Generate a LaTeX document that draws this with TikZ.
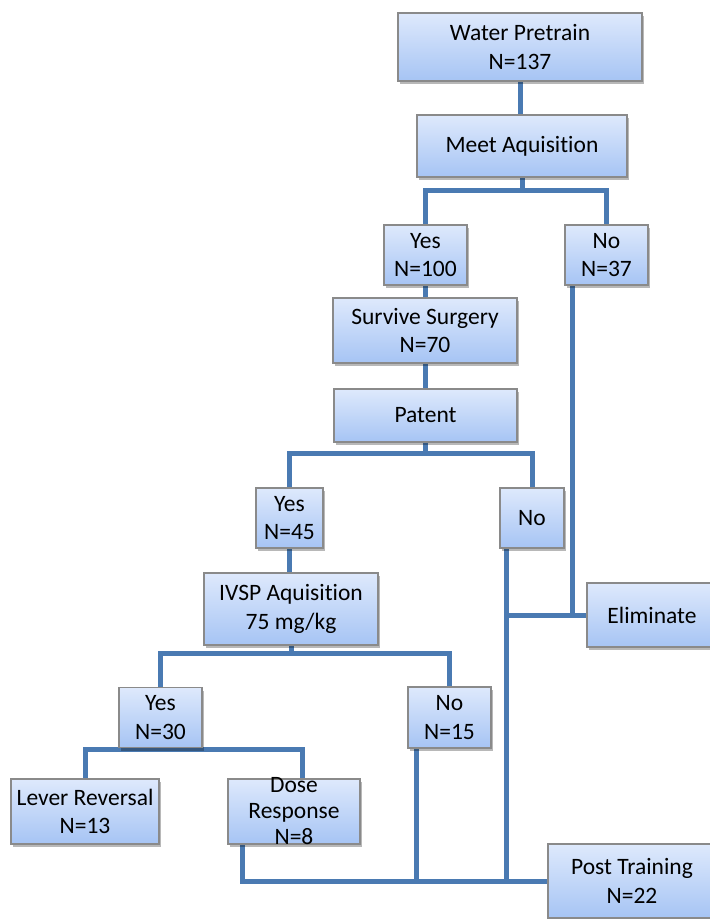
\documentclass[tikz,border=0pt]{standalone}
\usepackage{fontspec}
\setmainfont{Carlito}[Ligatures=CommonOff]
\usetikzlibrary{shadows,backgrounds}
\definecolor{boxtop}{RGB}{222,233,252}
\definecolor{boxbot}{RGB}{166,196,244}
\definecolor{boxline}{RGB}{138,138,138}
\definecolor{conncol}{RGB}{74,122,178}
\tikzset{
  box/.style={draw=boxline, line width=1.4pt, top color=boxtop, bottom color=boxbot,
    inner sep=0pt, align=center, font=\fontsize{23.5}{28.5}\selectfont,
    drop shadow={shadow xshift=2pt, shadow yshift=-3pt, opacity=0.28, fill=black}},
  txt/.style={inner sep=0pt, align=center, font=\fontsize{23.5}{26}\selectfont},
  conn/.style={draw=conncol, line width=5pt, line join=miter, line cap=butt}
}
\begin{document}
\begin{tikzpicture}[x=1pt,y=-1pt]
\useasboundingbox (0,0) rectangle (710,919);
% boxes
\node[box, minimum width=244pt, minimum height=68pt] (wp) at (520,47) {Water Pretrain\\N=137};
\node[box, minimum width=210pt, minimum height=62pt] (meet) at (522,146) {Meet Aquisition};
\node[box, minimum width=83pt, minimum height=60pt] (y100) at (425.5,255) {Yes\\N=100};
\node[box, minimum width=83pt, minimum height=60pt] (n37) at (606.5,255) {No\\N=37};
\node[box, minimum width=184pt, minimum height=65pt] (surv) at (425,330.5) {Survive Surgery\\N=70};
\node[box, minimum width=183pt, minimum height=53pt] (pat) at (425.5,415.5) {Patent};
\node[box, minimum width=67pt, minimum height=60pt] (y45) at (289.5,518) {Yes\\N=45};
\node[box, minimum width=64pt, minimum height=60pt] (npat) at (532,518) {No};
\node[box, minimum width=174pt, minimum height=72pt] (ivsp) at (291,609) {IVSP Aquisition\\75 mg/kg};
\node[box, minimum width=83pt, minimum height=60pt] (y30) at (160.5,717.5) {Yes\\N=30};
\node[box, minimum width=83pt, minimum height=61pt] (n15) at (449.5,717.5) {No\\N=15};
\node[box, minimum width=148pt, minimum height=65pt] (lever) at (85,811.5) {Lever Reversal\\N=13};
\node[box, minimum width=132pt, minimum height=65pt] (dose) at (294,811.5) {};
\node[txt] (dosetxt) at (dose.center) {Dose\\Response\\N=8};
\node[box, minimum width=130pt, minimum height=64pt] (elim) at (652,615) {Eliminate};
\node[box, minimum width=168pt, minimum height=74pt] (post) at (632,881) {Post Training\\N=22};
% junctions
\coordinate (j1) at (522,190);
\coordinate (j2) at (425.5,453);
\coordinate (j3) at (291,653);
\coordinate (j4) at (160.5,749);
\coordinate (dtop) at (302,749);
\begin{scope}[on background layer]
\draw[conn] (wp.south) -- (wp.south |- meet.north);
\draw[conn] (meet.south) -- (j1);
\draw[conn] (y100.north) |- (j1) -| (n37.north);
\draw[conn] (y100.south) -- (y100.south |- surv.north);
\draw[conn] (surv.south) -- (surv.south |- pat.north);
\draw[conn] (pat.south) -- (j2);
\draw[conn] (y45.north) |- (j2) -| (npat.north);
\draw[conn] (y45.south) -- (y45.south |- ivsp.north);
\draw[conn] (ivsp.south) -- (j3);
\draw[conn] (y30.north) |- (j3) -| (n15.north);
\draw[conn] (y30.south) -- (j4);
\draw[conn] (lever.north) |- (j4) -- (dtop) -- (dtop |- dose.north);
\draw[conn] ([xshift=8pt]n37.south west) |- (elim.west);
\draw[conn] ([xshift=7pt]npat.south west) coordinate (a) -- (a |- post.west) -- (post.west);
\draw[conn] (a |- elim.west) -- (elim.west);
\draw[conn] ([xshift=9pt]n15.south west) -- ([xshift=9pt]n15.south west |- post.west);
\draw[conn] ([xshift=15pt]dose.south west) |- (post.west);
\end{scope}
\end{tikzpicture}
\end{document}
